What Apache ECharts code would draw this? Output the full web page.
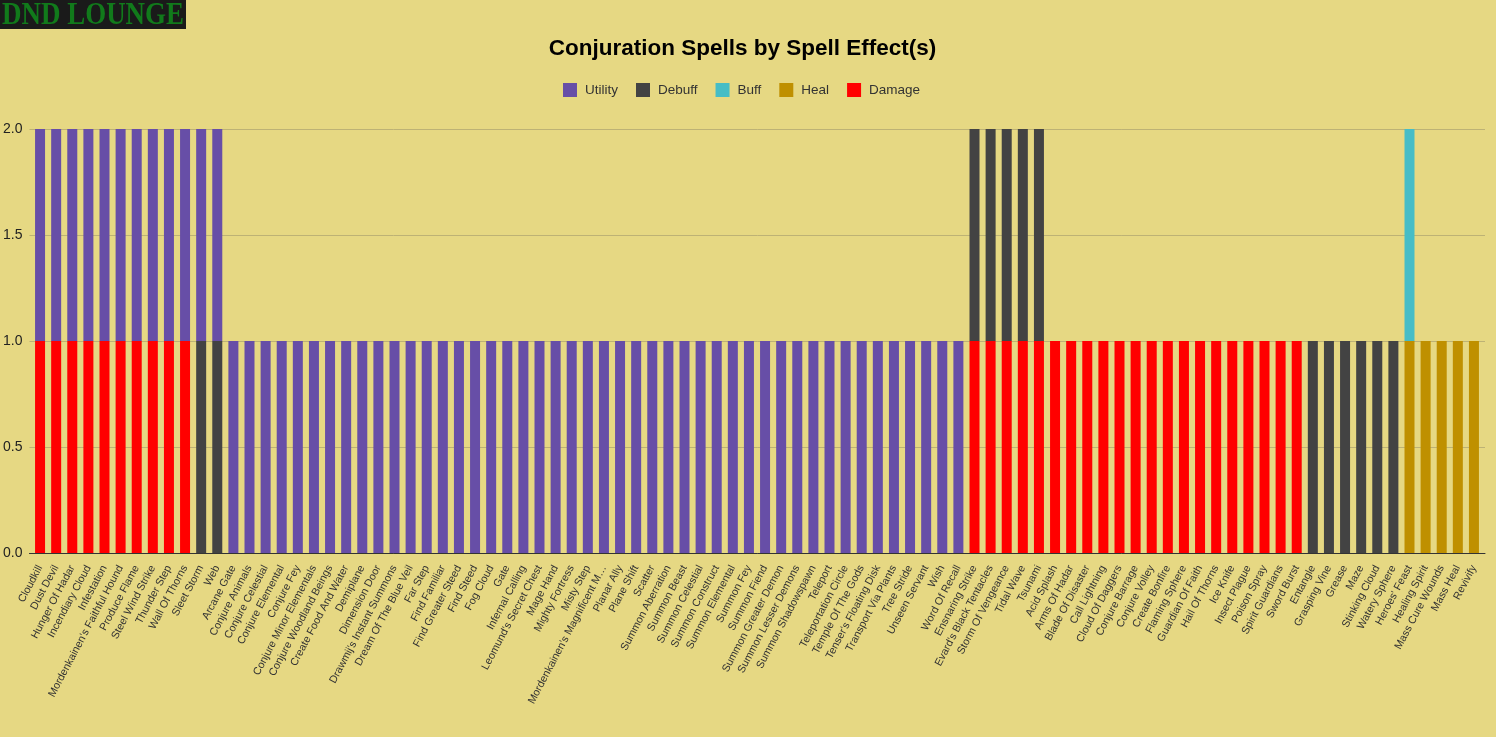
<!DOCTYPE html>
<html><head><meta charset="utf-8">
<style>html,body{margin:0;padding:0;background:#e6d883}#c{width:1496px;height:737px}</style>
<script src="https://cdn.jsdelivr.net/npm/echarts@6/dist/echarts.min.js"></script>
</head><body><div id="c"></div>
<script>
const categories = ["Cloudkill","Dust Devil","Hunger Of Hadar","Incendiary Cloud","Infestation","Mordenkainen's Faithful Hound","Produce Flame","Steel Wind Strike","Thunder Step","Wall Of Thorns","Sleet Storm","Web",
"Arcane Gate","Conjure Animals","Conjure Celestial","Conjure Elemental","Conjure Fey","Conjure Minor Elementals","Conjure Woodland Beings","Create Food And Water","Demiplane","Dimension Door","Drawmij's Instant Summons","Dream Of The Blue Veil","Far Step","Find Familiar","Find Greater Steed","Find Steed","Fog Cloud","Gate","Infernal Calling","Leomund's Secret Chest","Mage Hand","Mighty Fortress","Misty Step","Mordenkainen's Magnificent M…","Planar Ally","Plane Shift","Scatter","Summon Aberration","Summon Beast","Summon Celestial","Summon Construct","Summon Elemental","Summon Fey","Summon Fiend","Summon Greater Demon","Summon Lesser Demons","Summon Shadowspawn","Teleport","Teleportation Circle","Temple Of The Gods","Tenser's Floating Disk","Transport Via Plants","Tree Stride","Unseen Servant","Wish","Word Of Recall",
"Ensnaring Strike","Evard's Black Tentacles","Storm Of Vengeance","Tidal Wave","Tsunami",
"Acid Splash","Arms Of Hadar","Blade Of Disaster","Call Lightning","Cloud Of Daggers","Conjure Barrage","Conjure Volley","Create Bonfire","Flaming Sphere","Guardian Of Faith","Hail Of Thorns","Ice Knife","Insect Plague","Poison Spray","Spirit Guardians","Sword Burst",
"Entangle","Grasping Vine","Grease","Maze","Stinking Cloud","Watery Sphere",
"Heroes' Feast","Healing Spirit","Mass Cure Wounds","Mass Heal","Revivify"];
const damage = [1,1,1,1,1,1,1,1,1,1,0,0,
0,0,0,0,0,0,0,0,0,0,0,0,0,0,0,0,0,0,0,0,0,0,0,0,0,0,0,0,0,0,0,0,0,0,0,0,0,0,0,0,0,0,0,0,0,0,
1,1,1,1,1,
1,1,1,1,1,1,1,1,1,1,1,1,1,1,1,1,
0,0,0,0,0,0,
0,0,0,0,0];
const heal = [0,0,0,0,0,0,0,0,0,0,0,0,
0,0,0,0,0,0,0,0,0,0,0,0,0,0,0,0,0,0,0,0,0,0,0,0,0,0,0,0,0,0,0,0,0,0,0,0,0,0,0,0,0,0,0,0,0,0,
0,0,0,0,0,
0,0,0,0,0,0,0,0,0,0,0,0,0,0,0,0,
0,0,0,0,0,0,
1,1,1,1,1];
const buff = [0,0,0,0,0,0,0,0,0,0,0,0,
0,0,0,0,0,0,0,0,0,0,0,0,0,0,0,0,0,0,0,0,0,0,0,0,0,0,0,0,0,0,0,0,0,0,0,0,0,0,0,0,0,0,0,0,0,0,
0,0,0,0,0,
0,0,0,0,0,0,0,0,0,0,0,0,0,0,0,0,
0,0,0,0,0,0,
1,0,0,0,0];
const debuff = [0,0,0,0,0,0,0,0,0,0,1,1,
0,0,0,0,0,0,0,0,0,0,0,0,0,0,0,0,0,0,0,0,0,0,0,0,0,0,0,0,0,0,0,0,0,0,0,0,0,0,0,0,0,0,0,0,0,0,
1,1,1,1,1,
0,0,0,0,0,0,0,0,0,0,0,0,0,0,0,0,
1,1,1,1,1,1,
0,0,0,0,0];
const utility = [1,1,1,1,1,1,1,1,1,1,1,1,
1,1,1,1,1,1,1,1,1,1,1,1,1,1,1,1,1,1,1,1,1,1,1,1,1,1,1,1,1,1,1,1,1,1,1,1,1,1,1,1,1,1,1,1,1,1,
0,0,0,0,0,
0,0,0,0,0,0,0,0,0,0,0,0,0,0,0,0,
0,0,0,0,0,0,
0,0,0,0,0];
const legendOrder = ["Utility","Debuff","Buff","Heal","Damage"];
const font = '"Liberation Sans", Arial, sans-serif';
const mk = (name, data, color) => ({name, type:'bar', stack:'s', data, barWidth:10, xAxisIndex:1, yAxisIndex:1, itemStyle:{color}, emphasis:{disabled:true}, z:3});
const chart = echarts.init(document.getElementById('c'), null, {renderer:'canvas'});
chart.setOption({
  animation:false,
  backgroundColor:'#e6d883',
  title:{text:'Conjuration Spells by Spell Effect(s)', left:737.5, textAlign:'center', top:32,
    textStyle:{fontFamily:font, fontWeight:'bold', fontSize:22.5, color:'#000'}},
  legend:{data:legendOrder, top:78, left:558, itemWidth:14, itemHeight:14, itemGap:18,
    icon:'rect', textStyle:{fontFamily:font, fontSize:13.5, color:'#333', padding:[0,0,0,3]}},
  grid:[
    {left:29, right:11, top:129, bottom:184},
    {left:32, right:14, top:129, bottom:184}
  ],
  xAxis:[
    {gridIndex:0, type:'category', data:[], axisTick:{show:false}, axisLabel:{show:false},
      axisLine:{lineStyle:{color:'#333', width:1}}},
    {gridIndex:1, type:'category', data:categories, axisTick:{show:false}, axisLine:{show:false},
      axisLabel:{interval:0, rotate:62, fontFamily:font, fontSize:10.7, color:'#333', margin:13, hideOverlap:false}}
  ],
  yAxis:[
    {gridIndex:0, type:'value', min:0, max:2, interval:0.5,
      axisLine:{show:false}, axisTick:{show:false},
      axisLabel:{fontFamily:font, fontSize:14, color:'#222', margin:7, formatter:v=>v.toFixed(1)},
      splitLine:{lineStyle:{color:'#bdb275', width:1}}},
    {gridIndex:1, type:'value', min:0, max:2, interval:0.5, show:false, splitLine:{show:false}}
  ],
  series:[mk('Damage',damage,'#ff0000'), mk('Heal',heal,'#bf9000'), mk('Buff',buff,'#46bdc6'), mk('Debuff',debuff,'#434343'), mk('Utility',utility,'#674ea7')],
  graphic:[
    {type:'rect', x:0, y:0, shape:{width:186,height:29}, style:{fill:'#1a1a1a'}, z:10},
    {type:'text', x:2, y:16, scaleX:0.87, style:{text:'DND LOUNGE', fill:'#117a1b', verticalAlign:'middle', font:'bold 31px "Liberation Serif", serif'}, z:11}
  ]
});
</script></body></html>
